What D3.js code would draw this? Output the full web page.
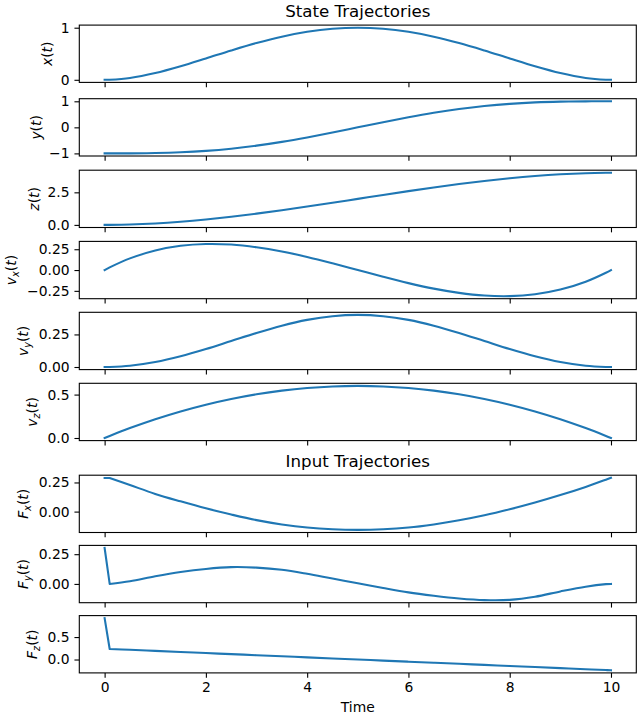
<!DOCTYPE html>
<html><head><meta charset="utf-8">
<script src="https://cdn.jsdelivr.net/npm/d3@7"></script>
<style>
body{margin:0;background:#fff}
svg{display:block}
text{font-family:"DejaVu Sans",sans-serif;fill:#000}
</style>
</head><body>
<svg id="chart" width="640" height="720"></svg>
<script>
// ---- data ----
const time = [0, 0.1, 0.5, 1, 1.5, 2, 2.5, 3, 3.5, 4, 4.5, 5, 5.5, 6, 6.5, 7, 7.5, 8, 8.5, 9, 9.5, 9.9, 10];
const xPos = [0, 0.0016, 0.0361, 0.1296, 0.2601, 0.4096, 0.5625, 0.7056, 0.8281, 0.9216, 0.9801, 1, 0.9801, 0.9216, 0.8281, 0.7056, 0.5625, 0.4096, 0.2601, 0.1296, 0.0361, 0.0016, 0];
const yPos = [-1, -1.0, -0.9984, -0.9871, -0.9575, -0.9027, -0.8183, -0.7027, -0.5575, -0.3871, -0.1984, 0, 0.1984, 0.3871, 0.5575, 0.7027, 0.8183, 0.9027, 0.9575, 0.9871, 0.9984, 1.0, 1];
const zPos = [0, 0.0012, 0.029, 0.112, 0.243, 0.416, 0.625, 0.864, 1.127, 1.408, 1.701, 2.0, 2.299, 2.592, 2.873, 3.136, 3.375, 3.584, 3.757, 3.888, 3.971, 3.999, 4.0];
const velX = [0, 0.032, 0.140, 0.235, 0.291, 0.313, 0.306, 0.274, 0.223, 0.157, 0.081, 0, -0.081, -0.157, -0.223, -0.274, -0.306, -0.313, -0.291, -0.235, -0.140, -0.032, 0];
const velY = [0, 0.0004, 0.0098, 0.0382, 0.0824, 0.1382, 0.2, 0.2618, 0.3176, 0.3618, 0.3902, 0.4, 0.3902, 0.3618, 0.3176, 0.2618, 0.2, 0.1382, 0.0824, 0.0382, 0.0098, 0.0004, 0];
const velZ = [0, 0.0238, 0.114, 0.216, 0.306, 0.384, 0.45, 0.504, 0.546, 0.576, 0.594, 0.6, 0.594, 0.576, 0.546, 0.504, 0.45, 0.384, 0.306, 0.216, 0.114, 0.0238, 0];
const forceX = [0.288, 0.288, 0.228, 0.152, 0.088, 0.028, -0.025, -0.073, -0.110, -0.137, -0.152, -0.157, -0.152, -0.137, -0.110, -0.075, -0.032, 0.020, 0.078, 0.142, 0.212, 0.274, 0.290];
const forceY = [0.302, 0.0, 0.022, 0.064, 0.100, 0.126, 0.141, 0.137, 0.119, 0.085, 0.045, 0.006, -0.034, -0.071, -0.099, -0.122, -0.136, -0.134, -0.108, -0.063, -0.023, -0.002, 0.0];
const forceZ = [0.92, 0.235, 0.216, 0.192, 0.168, 0.144, 0.120, 0.096, 0.072, 0.048, 0.024, 0, -0.024, -0.048, -0.072, -0.096, -0.120, -0.144, -0.168, -0.192, -0.216, -0.235, -0.240];

const xTicks = [0, 2, 4, 6, 8, 10];
const yTicksX = [0, 1];
const yTicksY = [-1, 0, 1];
const yTicksZ = [0, 2.5];
const yTicksVx = [-0.25, 0, 0.25];
const yTicksVy = [0, 0.25];
const yTicksVz = [0, 0.5];
const yTicksFx = [0, 0.25];
const yTicksFy = [0, 0.25];
const yTicksFz = [0, 0.5];

const titles = ["State Trajectories", "Input Trajectories"];
const xLabelText = "Time";

// ---- layout ----
const axLeft = 79.3, axRight = 636.3, axH = 57.3;
const tops = [25.1, 98.7, 170.2, 241.4, 312.3, 383.3, 475.2, 545.4, 615.6];
const FS = 13.89, TFS = 16.67, TICK = 4.86, PAD = 4.86, LABELPAD = 5.56;
const color = "#1f77b4";

// label pieces: [text, italic?, subscript?]
const panels = [
  {series: xPos, ticks: yTicksX, fmt: "d",   label: [["x",1,0],["(",0,0],["t",1,0],[")",0,0]]},
  {series: yPos, ticks: yTicksY, fmt: "d",   label: [["y",1,0],["(",0,0],["t",1,0],[")",0,0]]},
  {series: zPos, ticks: yTicksZ, fmt: ".1f", label: [["z",1,0],["(",0,0],["t",1,0],[")",0,0]]},
  {series: velX, ticks: yTicksVx, fmt: ".2f", label: [["v",1,0],["x",1,1],["(",0,0],["t",1,0],[")",0,0]]},
  {series: velY, ticks: yTicksVy, fmt: ".2f", label: [["v",1,0],["y",1,1],["(",0,0],["t",1,0],[")",0,0]]},
  {series: velZ, ticks: yTicksVz, fmt: ".1f", label: [["v",1,0],["z",1,1],["(",0,0],["t",1,0],[")",0,0]]},
  {series: forceX, ticks: yTicksFx, fmt: ".2f", label: [["F",1,0],["x",1,1],["(",0,0],["t",1,0],[")",0,0]]},
  {series: forceY, ticks: yTicksFy, fmt: ".2f", label: [["F",1,0],["y",1,1],["(",0,0],["t",1,0],[")",0,0]]},
  {series: forceZ, ticks: yTicksFz, fmt: ".1f", label: [["F",1,0],["z",1,1],["(",0,0],["t",1,0],[")",0,0]]}
];

const svg = d3.select("#chart");
const pad5 = ([a, b]) => { const r = b - a; return [a - 0.05 * r, b + 0.05 * r]; };

const x = d3.scaleLinear().domain(pad5(d3.extent(time))).range([axLeft, axRight]);

panels.forEach((p, i) => {
  const g = svg.append("g").attr("transform", `translate(0,${tops[i]})`);
  const y = d3.scaleLinear().domain(pad5(d3.extent(p.series))).range([axH, 0]);

  const pts = p.series.map((v, k) => [x(time[k]), y(v)]);
  // first step drawn straight (solver's initial sample), rest smooth
  const head = d3.line().curve(d3.curveLinear)(pts.slice(0, 2));
  const tail = d3.line().curve(d3.curveCatmullRom.alpha(0.5))(pts.slice(1));
  g.append("path")
    .attr("d", head + tail.replace(/^M[^CLZ]*/, m => "L" + m.slice(1)))
    .attr("fill", "none")
    .attr("stroke", color).attr("stroke-width", 2.08)
    .attr("stroke-linejoin", "round").attr("stroke-linecap", "square");

  // y axis
  const ya = g.append("g").attr("transform", `translate(${axLeft},0)`)
    .call(d3.axisLeft(y).tickValues(p.ticks).tickFormat(d3.format(p.fmt)).tickSize(TICK).tickPadding(PAD));
  // x axis
  const last = i === panels.length - 1;
  const xa = g.append("g").attr("transform", `translate(0,${axH})`)
    .call(d3.axisBottom(x).tickValues(xTicks).tickFormat(last ? d3.format("d") : () => "").tickSize(TICK).tickPadding(PAD));
  [ya, xa].forEach(a => {
    a.attr("font-family", null).attr("font-size", null);
    a.select(".domain").remove();
    a.selectAll(".tick line").attr("stroke", "#000").attr("stroke-width", 1.1);
    a.selectAll(".tick text").style("font-size", FS + "px").attr("fill", "#000");
  });

  // frame
  g.append("rect").attr("x", axLeft).attr("y", 0)
    .attr("width", axRight - axLeft).attr("height", axH)
    .attr("fill", "none").attr("stroke", "#000").attr("stroke-width", 1.1);

  // y label
  const tickLeft = d3.min(ya.selectAll(".tick text").nodes(), n => n.getBoundingClientRect().left);
  const lab = g.append("text").style("font-size", FS + "px").attr("text-anchor", "middle");
  let shifted = false;
  p.label.forEach(([t, it, sub]) => {
    const ts = lab.append("tspan").text(t);
    if (it) ts.attr("font-style", "italic");
    if (sub) { ts.style("font-size", (FS * 0.7) + "px").attr("dy", 3.2); shifted = true; }
    else if (shifted) { ts.attr("dy", -3.2); shifted = false; }
  });
  const bb = lab.node().getBBox();
  const tx = tickLeft - LABELPAD - (bb.y + bb.height);
  lab.attr("transform", `translate(${tx},${axH / 2}) rotate(-90)`);
});

// titles
const cx = (axLeft + axRight) / 2;
svg.append("text").attr("x", cx).attr("y", tops[0] - 8.33).attr("text-anchor", "middle")
  .style("font-size", TFS + "px").text(titles[0]);
svg.append("text").attr("x", cx).attr("y", tops[6] - 8.33).attr("text-anchor", "middle")
  .style("font-size", TFS + "px").text(titles[1]);
// x label
svg.append("text").attr("x", cx).attr("y", 712).attr("text-anchor", "middle")
  .style("font-size", FS + "px").text(xLabelText);
</script>
</body></html>
